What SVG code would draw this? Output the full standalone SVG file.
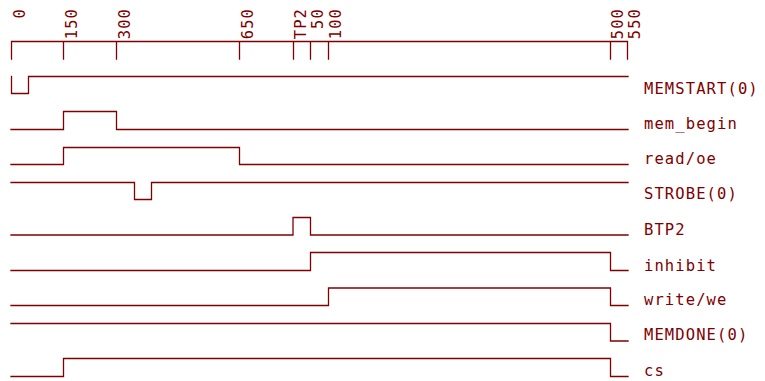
<svg xmlns="http://www.w3.org/2000/svg" width="765" height="381" viewBox="0 0 765 381">
<style>
.w{fill:none;stroke:#800000;stroke-width:1.3;stroke-linecap:square;stroke-linejoin:miter}
.t{font-family:"DejaVu Sans Mono","Liberation Mono",monospace;font-size:15.5px;letter-spacing:1.1px;fill:#800000}
</style>
<rect width="765" height="381" fill="#ffffff"/>
<g id="timeline">
<path class="w" d="M11.5,59 V41.5 H627.5 V59 M63.5,41.5 V59 M116.5,41.5 V59 M239.5,41.5 V59 M293.5,41.5 V59 M310.5,41.5 V59 M328.5,41.5 V59 M610.5,41.5 V59"/>
<g transform="rotate(-90)" class="t" text-anchor="end">
<text x="-8" y="25">0</text>
<text x="-8" y="77">150</text>
<text x="-8" y="129.5">300</text>
<text x="-8" y="253">650</text>
<text x="-8" y="306">TP2</text>
<text x="-8" y="323">50</text>
<text x="-8" y="341">100</text>
<text x="-8" y="623">500</text>
<text x="-8" y="640">550</text>
</g>
</g>
<g id="connectors">
<path id="w-memstart" class="w" d="M11.5,76.5 V93.5 H28.5 V76.5 H628"/>
<path id="w-mem_begin" class="w" d="M11,129.5 H63.5 V111.5 H116.5 V129.5 H628"/>
<path id="w-read" class="w" d="M11,164.5 H63.5 V147.5 H239.5 V164.5 H628"/>
<path id="w-strobe" class="w" d="M11,182.5 H134.5 V199.5 H151.5 V182.5 H628"/>
<path id="w-btp2" class="w" d="M11,235 H293 V217.5 H310.5 V235 H628"/>
<path id="w-inhibit" class="w" d="M11,270.5 H310.5 V252.5 H610.5 V270.5 H628"/>
<path id="w-write" class="w" d="M11,305.5 H328.5 V288 H610.5 V305.5 H628"/>
<path id="w-memdone" class="w" d="M11,323.5 H610.5 V341 H628"/>
<path id="w-cs" class="w" d="M11,376.5 H63.5 V358.5 H610.5 V376.5 H628"/>
</g>
<g id="sig-memstart"><text class="t" x="644" y="94">MEMSTART(0)</text></g>
<g id="sig-mem_begin"><text class="t" x="644" y="129">mem_begin</text></g>
<g id="sig-read"><text class="t" x="644" y="164">read/oe</text></g>
<g id="sig-strobe"><text class="t" x="644" y="199">STROBE(0)</text></g>
<g id="sig-btp2"><text class="t" x="644" y="235">BTP2</text></g>
<g id="sig-inhibit"><text class="t" x="644" y="270.5">inhibit</text></g>
<g id="sig-write"><text class="t" x="644" y="305">write/we</text></g>
<g id="sig-memdone"><text class="t" x="644" y="340">MEMDONE(0)</text></g>
<g id="sig-cs"><text class="t" x="644" y="375.5">cs</text></g>
</svg>
